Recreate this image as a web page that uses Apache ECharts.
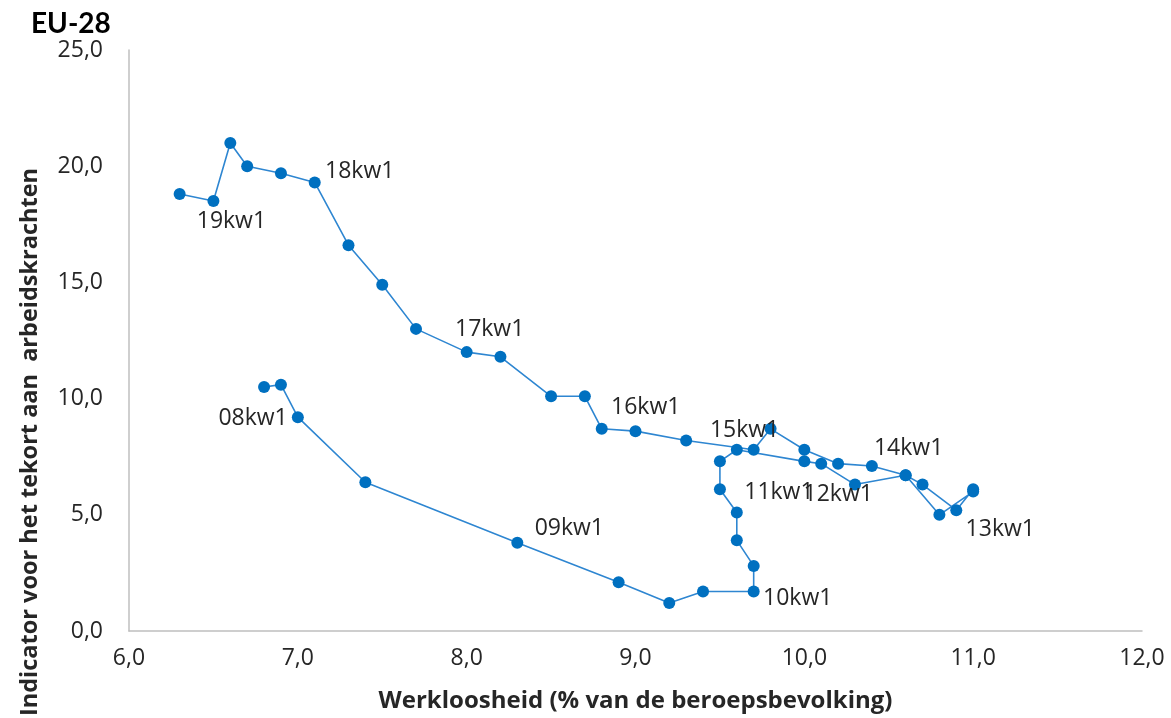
<!DOCTYPE html>
<html>
<head>
<meta charset="utf-8">
<script src="https://cdn.jsdelivr.net/npm/echarts@6/dist/echarts.min.js"></script>
<style>html,body{margin:0;padding:0;background:#fff;}#c{width:1171px;height:718px;}</style>
</head>
<body>
<div id="c"></div>
<script>
// Quarters (kw = kwartaal), 2008Q1 .. 2019Q2
const quarters = [
  '08kw1','08kw2','08kw3','08kw4',
  '09kw1','09kw2','09kw3','09kw4',
  '10kw1','10kw2','10kw3','10kw4',
  '11kw1','11kw2','11kw3','11kw4',
  '12kw1','12kw2','12kw3','12kw4',
  '13kw1','13kw2','13kw3','13kw4',
  '14kw1','14kw2','14kw3','14kw4',
  '15kw1','15kw2','15kw3','15kw4',
  '16kw1','16kw2','16kw3','16kw4',
  '17kw1','17kw2','17kw3','17kw4',
  '18kw1','18kw2','18kw3','18kw4',
  '19kw1','19kw2'
];
// Werkloosheid (% van de beroepsbevolking)
const unemployment = [
  6.8, 6.9, 7.0, 7.4,
  8.3, 8.9, 9.2, 9.4,
  9.7, 9.7, 9.6, 9.6,
  9.5, 9.5, 9.6, 10.0,
  10.1, 10.3, 10.6, 10.7,
  10.9, 11.0, 11.0, 10.8,
  10.6, 10.4, 10.2, 10.0,
  9.8, 9.7, 9.3, 9.0,
  8.8, 8.7, 8.5, 8.2,
  8.0, 7.7, 7.5, 7.3,
  7.1, 6.9, 6.7, 6.6,
  6.5, 6.3
];
// Indicator voor het tekort aan arbeidskrachten
const shortage = [
  10.5, 10.6, 9.2, 6.4,
  3.8, 2.1, 1.2, 1.7,
  1.7, 2.8, 3.9, 5.1,
  6.1, 7.3, 7.8, 7.3,
  7.2, 6.3, 6.7, 6.3,
  5.2, 6.1, 6.0, 5.0,
  6.7, 7.1, 7.2, 7.8,
  8.7, 7.8, 8.2, 8.6,
  8.7, 10.1, 10.1, 11.8,
  12.0, 13.0, 14.9, 16.6,
  19.3, 19.7, 20.0, 21.0,
  18.5, 18.8
];
// Quarters that carry a label
const labelledQuarters = ['08kw1','09kw1','10kw1','11kw1','12kw1','13kw1','14kw1','15kw1','16kw1','17kw1','18kw1','19kw1'];
const xTicks = [6, 7, 8, 9, 10, 11, 12];
const yTicks = [0, 5, 10, 15, 20, 25];

// label placement (styling only)
const labelOffset = {
  '08kw1': [-11, 31], '09kw1': [52, -14], '10kw1': [44, 7], '11kw1': [59, 3],
  '12kw1': [17, 31], '13kw1': [44, 19], '14kw1': [3, -27], '15kw1': [-26, 2],
  '16kw1': [44, -21], '17kw1': [23, -23], '18kw1': [45, -11], '19kw1': [18, 20]
};

const fmt = v => v.toFixed(1).replace('.', ',');
const FONT = '"Open Sans", Lato, sans-serif';

const data = quarters.map((q, i) => {
  const item = { name: q, value: [unemployment[i], shortage[i]] };
  if (labelledQuarters.includes(q)) {
    item.label = {
      show: true, formatter: q, position: 'inside',
      offset: labelOffset[q], align: 'center', verticalAlign: 'middle',
      color: '#262626', fontSize: 23, fontFamily: FONT
    };
  }
  return item;
});

const chart = echarts.init(document.getElementById('c'), null, { renderer: 'canvas' });
chart.setOption({
  backgroundColor: '#ffffff',
  animation: false,
  title: {
    text: 'EU-28', left: 26, top: 5,
    textStyle: { fontSize: 28, fontWeight: 'bold', color: '#000', fontFamily: 'Lato, sans-serif' }
  },
  grid: { left: 129, right: 29, top: 50, bottom: 85, containLabel: false },
  xAxis: {
    type: 'value', min: xTicks[0], max: xTicks[xTicks.length - 1], interval: 1,
    name: 'Werkloosheid (% van de beroepsbevolking)', nameLocation: 'middle', nameGap: 58,
    nameTextStyle: { fontSize: 24, fontWeight: 'bold', color: '#262626', fontFamily: FONT },
    axisLine: { show: true, lineStyle: { color: '#bfbfbf', width: 1.5 } },
    axisTick: { show: false },
    splitLine: { show: false },
    axisLabel: { formatter: fmt, fontSize: 23, color: '#262626', margin: 16, fontFamily: FONT }
  },
  yAxis: {
    type: 'value', min: yTicks[0], max: yTicks[yTicks.length - 1], interval: 5,
    axisLine: { show: true, lineStyle: { color: '#bfbfbf', width: 1.5 } },
    axisTick: { show: false },
    splitLine: { show: false },
    axisLabel: { formatter: fmt, fontSize: 23, color: '#262626', margin: 26, fontFamily: FONT }
  },
  graphic: [{
    type: 'text', x: 30, y: 442, rotation: Math.PI / 2,
    style: {
      text: 'Indicator voor het tekort aan  arbeidskrachten',
      align: 'center', verticalAlign: 'middle',
      fontSize: 23.5, fontWeight: 'bold', fill: '#262626', fontFamily: FONT
    }
  }],
  series: [{
    type: 'line',
    data: data,
    symbol: 'circle', symbolSize: 12,
    itemStyle: { color: '#0070C0' },
    lineStyle: { color: '#2E86D1', width: 1.6 },
    label: { show: false },
    emphasis: { disabled: true }
  }]
});
</script>
</body>
</html>
